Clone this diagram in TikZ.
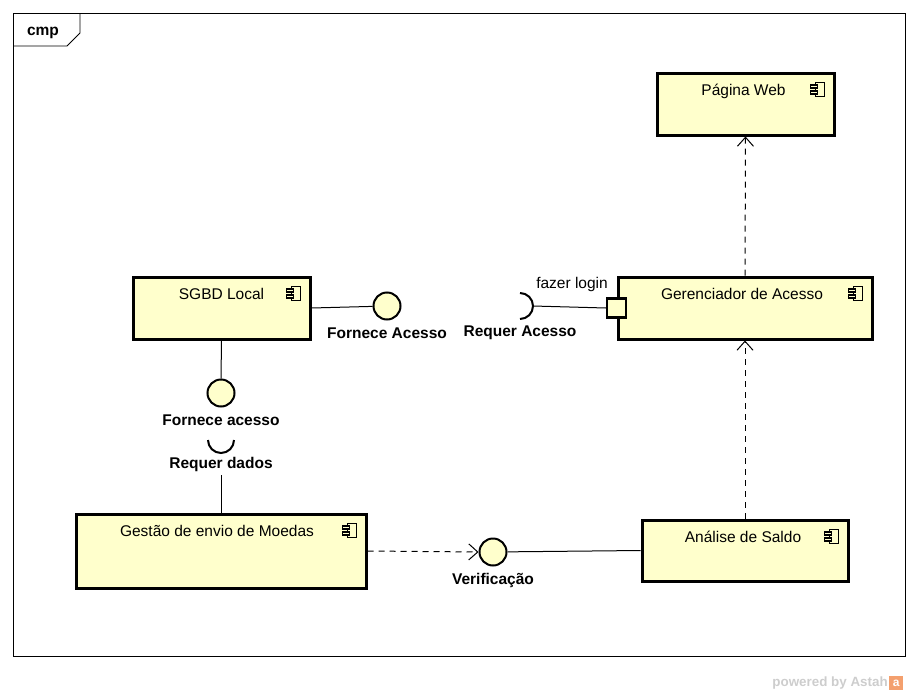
\documentclass[tikz,border=0pt]{standalone}
\usepackage{fontspec}
\setmainfont{Liberation Sans}
\usetikzlibrary{arrows.meta, positioning, calc}
\definecolor{compyellow}{RGB}{255,255,204}
\definecolor{astahgray}{RGB}{205,205,205}
\definecolor{astahorange}{RGB}{244,160,110}

\begin{document}
\begin{tikzpicture}[
  x=1pt, y=-1pt,
  frame/.style={draw=black, line width=0.9pt},
  comp/.style={rectangle, draw=black, fill=compyellow, line width=3pt, inner sep=0pt},
  comptitle/.style={font=\fontsize{15.5}{17}\selectfont, inner sep=0pt, text height=11pt, text depth=3pt},
  iface/.style={circle, draw=black, fill=compyellow, line width=2pt, minimum size=27pt, inner sep=0pt},
  port/.style={rectangle, draw=black, fill=compyellow, line width=2.2pt, minimum size=19pt, inner sep=0pt},
  ilabel/.style={font=\bfseries\fontsize{15.5}{17}\selectfont, inner sep=0pt, text height=11pt, text depth=3pt},
  link/.style={draw=black, line width=1pt},
  socket/.style={draw=black, line width=2pt},
  dep/.style={draw=black, line width=1pt, dash pattern=on 6pt off 5pt,
    -{Straight Barb[length=9pt, width=16pt, line width=1pt]}},
  compicon/.pic={
    \draw[line width=1.1pt, fill=compyellow] (-3,-7) rectangle (6,7);
    \draw[line width=1.1pt, fill=compyellow] (-8,-4.5) rectangle (-1,-1.5);
    \draw[line width=1.1pt, fill=compyellow] (-8,1.5) rectangle (-1,4.5);
  }
]
\useasboundingbox (0,0) rectangle (918,696);

% Frame with tab
\draw[frame] (13,13) rectangle (905,656);
\draw[frame] (13,46) -- (67,46) -- (80,33) -- (80,13);
\node[ilabel] (cmpT) at (43,31) {cmp};

% Components
\node[comp, minimum width=177pt, minimum height=62pt] (web) at (745.5,104) {};
\node[comp, minimum width=177pt, minimum height=62pt] (sgbd) at (221.5,308) {};
\node[comp, minimum width=254pt, minimum height=62pt] (ger) at (745,308) {};
\node[comp, minimum width=290pt, minimum height=74pt] (gestao) at (221,551) {};
\node[comp, minimum width=206pt, minimum height=61pt] (saldo) at (745,550.5) {};

\node[comptitle, below=13pt of web.north, xshift=-2pt] (webT) {Página Web};
\node[comptitle, below=13pt of sgbd.north] (sgbdT) {SGBD Local};
\node[comptitle, below=13pt of ger.north, xshift=-3pt] (gerT) {Gerenciador de Acesso};
\node[comptitle, below=13pt of gestao.north, xshift=-4pt] (gestaoT) {Gestão de envio de Moedas};
\node[comptitle, below=13pt of saldo.north, xshift=-2pt] (saldoT) {Análise de Saldo};

\foreach \c in {web,sgbd,ger,gestao,saldo} {
  \pic at ($(\c.north east)+(-17,18)$) {compicon};
}

% Provided / required interfaces
\node[iface] (fornA) at (387,306) {};
\node[ilabel, below=7pt of fornA] (fornAL) {Fornece Acesso};
\coordinate (reqA) at (520,306);
\coordinate (reqAtip) at (533,306);
\draw[socket] ($(reqA)+(0,-13)$) arc[start angle=-90, end angle=90, radius=13];
\node[ilabel, below=19pt of reqA] (reqAL) {Requer Acesso};

\node[iface] (fornD) at (221,393) {};
\node[ilabel, below=7pt of fornD] (fornDL) {Fornece acesso};
\coordinate (reqD) at (221,440);
\draw[socket] ($(reqD)+(-13,0)$) arc[start angle=180, end angle=0, radius=13];
\node[ilabel, below=17pt of reqD] (reqDL) {Requer dados};
\coordinate (reqDtail) at (221,475);

\node[iface] (verif) at (493,552) {};
\node[ilabel, below=7pt of verif] (verifL) {Verificação};

% Port
\node[port] (loginP) at (ger.west) {};
\node[comptitle] (loginL) at (572,284) {fazer login};

% Connectors
\draw[link] (sgbd.east) -- (fornA);
\draw[link] (reqAtip) -- (loginP.west);
\draw[link] (sgbd.south) -- (fornD.north);
\draw[link] (reqDtail) -- (reqDtail |- gestao.north);
\draw[dep] (gestao.east) -- (verif.west);
\draw[link] (verif) -- (saldo.west);
\draw[dep] (saldo.north) -- (ger.south);
\draw[dep] (ger.north) -- (web.south);

% Footer
\node[font=\bfseries\fontsize{13.4}{15}\selectfont, text=astahgray, inner sep=0pt, anchor=east] (powered) at (888,683) {powered by Astah};
\node[fill=astahorange, minimum size=14pt, inner sep=0pt, text=white, font=\bfseries\fontsize{12}{12}\selectfont, right=1pt of powered] (astahLogo) {a};

\end{tikzpicture}
\end{document}
